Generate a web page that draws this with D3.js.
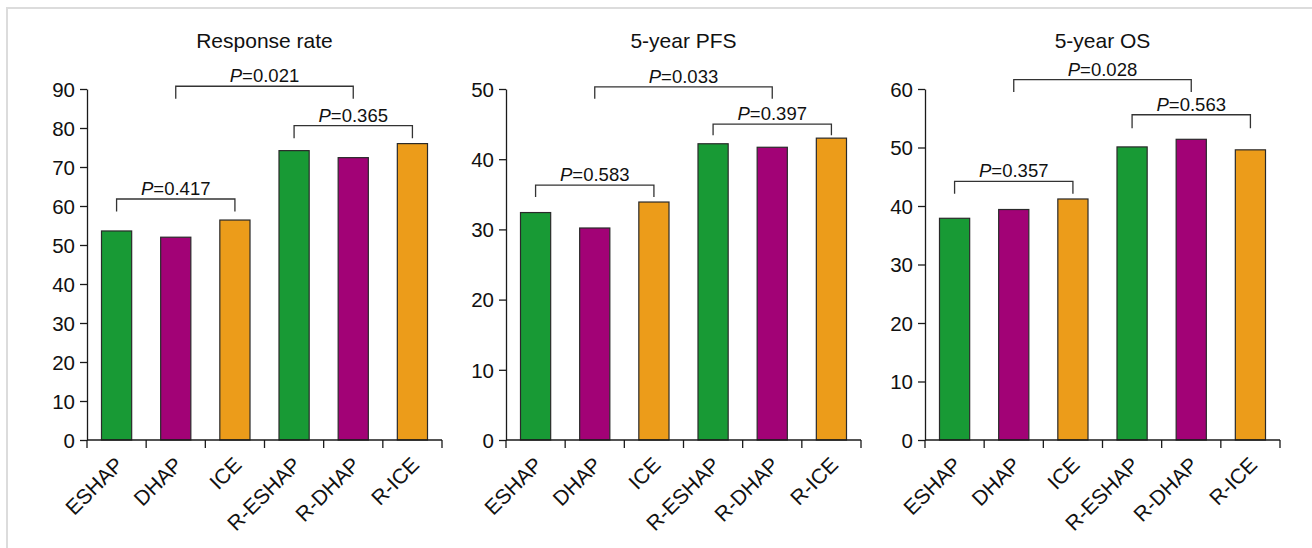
<!DOCTYPE html>
<html>
<head>
<meta charset="utf-8">
<script src="https://cdn.jsdelivr.net/npm/d3@7"></script>
<style>
  html, body { margin: 0; padding: 0; background: #fff; }
  svg { display: block; }
  text { font-family: "Liberation Sans", Arial, sans-serif; fill: #111; }
</style>
</head>
<body>
<svg id="chart" width="1312" height="548"></svg>
<script>
// ---- data ----
const categories = ["ESHAP", "DHAP", "ICE", "R-ESHAP", "R-DHAP", "R-ICE"];
const barColors = ["#189a35", "#a20276", "#ec9c1a", "#189a35", "#a20276", "#ec9c1a"];

const titles = ["Response rate", "5-year PFS", "5-year OS"];
const yMax = [90, 50, 60];
const yTickStep = [10, 10, 10];

const responseRate = [53.6, 52.0, 56.4, 74.2, 72.4, 76.0];
const pfs5 = [32.4, 30.2, 33.9, 42.2, 41.7, 43.0];
const os5 = [37.9, 39.4, 41.2, 50.1, 51.4, 49.6];
const seriesValues = [responseRate, pfs5, os5];

// brackets: [from category, to category, line level, end level, label]
const responseBrackets = [
  ["ESHAP", "ICE", 61.8, 58.6, "0.417"],
  ["DHAP", "R-DHAP", 90.7, 87.5, "0.021"],
  ["R-ESHAP", "R-ICE", 80.6, 77.4, "0.365"]
];
const pfsBrackets = [
  ["ESHAP", "ICE", 36.3, 34.6, "0.583"],
  ["DHAP", "R-DHAP", 50.3, 48.6, "0.033"],
  ["R-ESHAP", "R-ICE", 45.0, 43.4, "0.397"]
];
const osBrackets = [
  ["ESHAP", "ICE", 44.2, 42.1, "0.357"],
  ["DHAP", "R-DHAP", 61.6, 59.5, "0.028"],
  ["R-ESHAP", "R-ICE", 55.6, 53.3, "0.563"]
];
const bracketSets = [responseBrackets, pfsBrackets, osBrackets];

// ---- layout ----
const svg = d3.select("#chart");

// light frame (top & left visible)
svg.append("rect")
  .attr("x", 7).attr("y", 8)
  .attr("width", 1320).attr("height", 560)
  .attr("fill", "none")
  .attr("stroke", "#dcdcdc")
  .attr("stroke-width", 2);

const panelLeft = [87, 506, 925];
const plotW = 355;
const plotTop = 89;
const plotBottom = 440;

for (let p = 0; p < 3; p++) {
  const g = svg.append("g").attr("transform", `translate(${panelLeft[p]},0)`);
  const x = d3.scaleBand().domain(categories).range([0, plotW]).paddingInner(0.49).paddingOuter(0.245);
  const y = d3.scaleLinear().domain([0, yMax[p]]).range([plotBottom, plotTop]);

  // title
  g.append("text")
    .attr("x", plotW / 2).attr("y", 48)
    .attr("text-anchor", "middle")
    .style("font-size", "21px")
    .text(titles[p]);

  // bars
  g.selectAll("rect.bar").data(seriesValues[p]).enter().append("rect")
    .attr("class", "bar")
    .attr("x", (d, i) => x(categories[i]))
    .attr("y", d => y(d))
    .attr("width", x.bandwidth())
    .attr("height", d => y(0) - y(d))
    .attr("fill", (d, i) => barColors[i])
    .attr("stroke", "#2a2a2a")
    .attr("stroke-width", 1.2);

  // y axis
  const yAxis = d3.axisLeft(y)
    .tickValues(d3.range(0, yMax[p] + 0.001, yTickStep[p]))
    .tickSize(7).tickPadding(5).tickSizeOuter(0);
  const ya = g.append("g").call(yAxis);
  ya.select(".domain").attr("stroke", "#1a1a1a").attr("stroke-width", 1.3);
  ya.selectAll(".tick line").attr("stroke", "#1a1a1a").attr("stroke-width", 1.3);
  ya.selectAll(".tick text")
    .style("font-size", "20.5px")
    .style("font-family", "'Liberation Sans', Arial, sans-serif")
    .attr("fill", "#111")
    .attr("dy", "0.36em");

  // x axis: baseline with ticks at category boundaries
  const step = x.step();
  const boundaries = d3.range(0, categories.length + 1).map(i => i * step);
  g.append("line")
    .attr("x1", 0).attr("x2", plotW)
    .attr("y1", y(0)).attr("y2", y(0))
    .attr("stroke", "#1a1a1a").attr("stroke-width", 1.3);
  g.selectAll("line.xtick").data(boundaries).enter().append("line")
    .attr("class", "xtick")
    .attr("x1", d => d).attr("x2", d => d)
    .attr("y1", y(0)).attr("y2", y(0) + 8)
    .attr("stroke", "#1a1a1a").attr("stroke-width", 1.3);

  // x labels rotated
  g.selectAll("text.xlab").data(categories).enter().append("text")
    .attr("class", "xlab")
    .attr("transform", d => `translate(${x(d) + x.bandwidth() / 2 + 8},${y(0) + 26}) rotate(-45)`)
    .attr("text-anchor", "end")
    .style("font-size", "21px")
    .text(d => d);

  // brackets
  bracketSets[p].forEach(b => {
    const x1 = x(b[0]) + x.bandwidth() / 2;
    const x2 = x(b[1]) + x.bandwidth() / 2;
    const yl = y(b[2]);
    const ye = y(b[3]);
    g.append("path")
      .attr("d", `M${x1},${ye}V${yl}H${x2}V${ye}`)
      .attr("fill", "none")
      .attr("stroke", "#333")
      .attr("stroke-width", 1.3);
    const t = g.append("text")
      .attr("x", (x1 + x2) / 2).attr("y", yl - 4)
      .attr("text-anchor", "middle")
      .style("font-size", "18.5px");
    t.append("tspan").style("font-style", "italic").text("P");
    t.append("tspan").text("=" + b[4]);
  });
}
</script>
</body>
</html>
